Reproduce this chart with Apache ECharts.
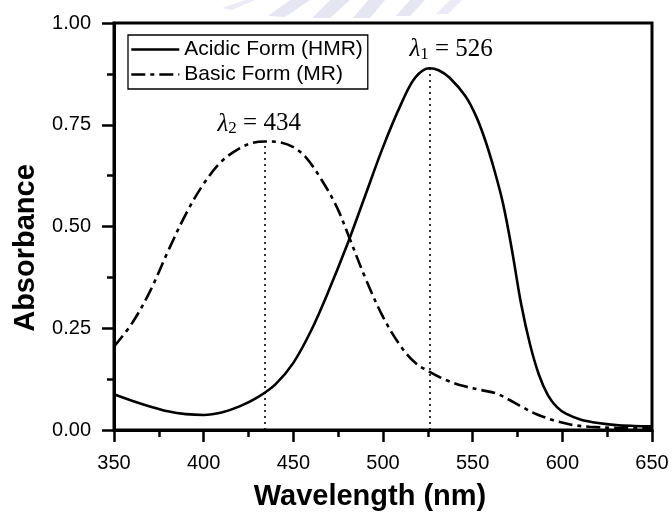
<!DOCTYPE html>
<html>
<head>
<meta charset="utf-8">
<script src="https://cdn.jsdelivr.net/npm/echarts@6/dist/echarts.min.js"></script>
<style>html,body{margin:0;padding:0;background:#fff}#c{width:672px;height:513px}</style>
</head>
<body>
<div id="c"></div>
<script>
// ---- data ----
var acidicX = [350,360,370,380,390,400,410,420,430,440,450,460,470,480,490,500,510,518,526,531,537,546,552,557,562,567,572,577,582,587,592,597,602,610,620,630,640,650];
var acidicY = [0.088,0.072,0.058,0.046,0.039,0.037,0.043,0.058,0.080,0.112,0.165,0.245,0.345,0.455,0.575,0.695,0.800,0.866,0.889,0.884,0.866,0.820,0.770,0.712,0.640,0.555,0.440,0.310,0.210,0.135,0.085,0.056,0.040,0.026,0.017,0.012,0.010,0.009];
var basicX = [350,360,370,380,390,400,410,420,427,434,442,450,457,465,474,481,490,500,510,518,526,535,545,555,563,570,577,585,595,605,615,630,650];
var basicY = [0.205,0.262,0.340,0.438,0.530,0.605,0.660,0.692,0.705,0.709,0.707,0.695,0.670,0.620,0.550,0.475,0.375,0.278,0.205,0.165,0.143,0.123,0.108,0.098,0.090,0.075,0.058,0.040,0.024,0.013,0.008,0.005,0.004];
var seriesNames = ['Acidic Form (HMR)', 'Basic Form (MR)'];
var peakX = [526, 434];
var peakY = [0.889, 0.709];
var peakLabelPos = [[538, 0.934], [431, 0.752]];
var xTitle = 'Wavelength (nm)';
var yTitle = 'Absorbance';
var xTicks = {min: 350, max: 650, step: 50};
var yTicks = {min: 0, max: 1, step: 0.25};

function pairs(xs, ys) { return xs.map(function (x, i) { return [x, ys[i]]; }); }

var chart = echarts.init(document.getElementById('c'));
var FONT = '"Liberation Sans", Arial, sans-serif';
var SERIF = '"Liberation Serif", "Times New Roman", serif';

function lambdaLabel(sub, val) {
  return {
    show: true,
    formatter: '{l|λ}{s|' + sub + '}{n| = ' + val + '}',
    rich: {
      l: {fontFamily: SERIF, fontStyle: 'italic', fontSize: 25, color: '#000'},
      s: {fontFamily: SERIF, fontSize: 17, color: '#000', verticalAlign: 'bottom', padding: [10, 0, 0, 0]},
      n: {fontFamily: SERIF, fontSize: 25, color: '#000'}
    }
  };
}

var option = {
  animation: false,
  backgroundColor: '#fff',
  textStyle: {fontFamily: FONT},
  grid: {left: 114, right: 20, top: 23, bottom: 83, show: true, borderColor: '#000', borderWidth: 3, backgroundColor: 'transparent'},
  graphic: [
    {type: 'polygon', z: -10, shape: {points: [[222, 8], [245, 0], [255, 0], [232, 10]]}, style: {fill: '#ecebf5'}},
    {type: 'polygon', z: -10, shape: {points: [[268, 16], [290, 0], [310, 0], [285, 17]]}, style: {fill: '#e6e5f2'}},
    {type: 'polygon', z: -10, shape: {points: [[312, 18], [330, 0], [350, 0], [330, 18]]}, style: {fill: '#e6e5f2'}},
    {type: 'polygon', z: -10, shape: {points: [[353, 18], [368, 0], [385, 0], [370, 18]]}, style: {fill: '#e6e5f2'}},
    {type: 'polygon', z: -10, shape: {points: [[396, 16], [410, 0], [425, 0], [410, 16]]}, style: {fill: '#e6e5f2'}},
    {type: 'polygon', z: -10, shape: {points: [[436, 14], [450, 0], [462, 0], [448, 14]]}, style: {fill: '#ecebf5'}},
    {type: 'text', x: 370, y: 497, style: {text: xTitle, font: 'bold 29px ' + FONT, fill: '#000', textAlign: 'center', textVerticalAlign: 'middle'}},
    {type: 'text', x: 26, y: 248, rotation: Math.PI / 2, style: {text: yTitle, font: 'bold 29px ' + FONT, fill: '#000', textAlign: 'center', textVerticalAlign: 'middle'}}
  ],
  legend: {
    show: true,
    orient: 'vertical', left: 128, top: 35,
    itemWidth: 48, itemHeight: 14, itemGap: 4,
    padding: [4, 5, 4, 2],
    borderColor: '#000', borderWidth: 1.3, backgroundColor: '#fff',
    itemStyle: {opacity: 0},
    lineStyle: {width: 2.6},
    textStyle: {fontFamily: FONT, fontSize: 21, color: '#000'},
    data: seriesNames
  },
  xAxis: {
    type: 'value', min: xTicks.min, max: xTicks.max, interval: xTicks.step,
    axisLine: {show: true, onZero: false, lineStyle: {color: '#000', width: 3}},
    axisTick: {show: true, inside: false, length: 12, lineStyle: {color: '#000', width: 2.5}},
    minorTick: {show: true, splitNumber: 2, length: 7, lineStyle: {color: '#000', width: 2.5}},
    axisLabel: {fontFamily: FONT, fontSize: 20, color: '#000', margin: 23},
    splitLine: {show: false}
  },
  yAxis: {
    type: 'value', min: yTicks.min, max: yTicks.max, interval: yTicks.step,
    axisLine: {show: true, onZero: false, lineStyle: {color: '#000', width: 3}},
    axisTick: {show: true, inside: false, length: 12, lineStyle: {color: '#000', width: 2.5}},
    minorTick: {show: true, splitNumber: 2, length: 7, lineStyle: {color: '#000', width: 2.5}},
    axisLabel: {fontFamily: FONT, fontSize: 20, color: '#000', margin: 23, formatter: function (v) { return v.toFixed(2); }},
    splitLine: {show: false}
  },
  series: [
    {
      name: seriesNames[0], type: 'line', data: pairs(acidicX, acidicY),
      smooth: 0.35, symbol: 'none', showSymbol: false,
      lineStyle: {color: '#000', width: 2.6, type: 'solid'},
      itemStyle: {color: '#000'},
      markLine: {
        silent: true, symbol: 'none', label: {show: false},
        lineStyle: {color: '#000', type: [2, 4], width: 1.6},
        data: [[{coord: [peakX[0], 0]}, {coord: [peakX[0], peakY[0]]}]]
      },
      markPoint: {
        symbol: 'circle', symbolSize: 0,
        label: lambdaLabel('1', peakX[0]),
        data: [{coord: peakLabelPos[0]}]
      }
    },
    {
      name: seriesNames[1], type: 'line', data: pairs(basicX, basicY),
      smooth: 0.35, symbol: 'none', showSymbol: false,
      lineStyle: {color: '#000', width: 2.6, type: [14, 5, 4, 5]},
      itemStyle: {color: '#000'},
      markLine: {
        silent: true, symbol: 'none', label: {show: false},
        lineStyle: {color: '#000', type: [2, 4], width: 1.6},
        data: [[{coord: [peakX[1], 0]}, {coord: [peakX[1], peakY[1]]}]]
      },
      markPoint: {
        symbol: 'circle', symbolSize: 0,
        label: lambdaLabel('2', peakX[1]),
        data: [{coord: peakLabelPos[1]}]
      }
    }
  ]
};
chart.setOption(option);
</script>
</body>
</html>
